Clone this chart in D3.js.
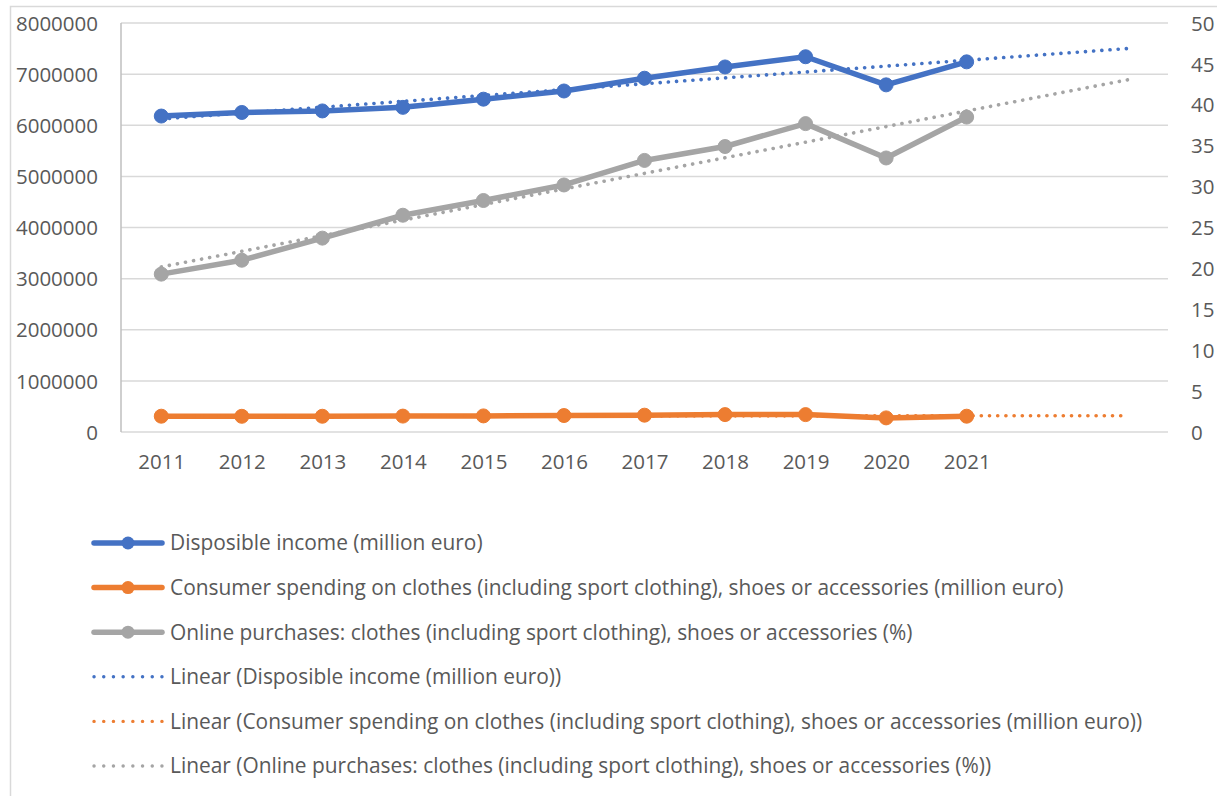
<!DOCTYPE html>
<html>
<head>
<meta charset="utf-8">
<script src="https://cdn.jsdelivr.net/npm/d3@7"></script>
<style>
  body { margin: 0; background: #fff; }
  svg { display: block; }
  text { font-family: "Open Sans", sans-serif; fill: #595959; }
</style>
</head>
<body>
<svg id="chart" width="1217" height="796"></svg>
<script>
// Categories and series values
const years = ["2011", "2012", "2013", "2014", "2015", "2016", "2017", "2018", "2019", "2020", "2021"];
const disposableIncome = [6180000, 6250000, 6280000, 6350000, 6510000, 6670000, 6920000, 7140000, 7340000, 6790000, 7240000];
const clothesSpending = [309000, 307000, 308000, 311000, 315000, 322000, 329000, 340000, 340000, 276000, 309000];
const onlinePurchases = [19.3, 21.0, 23.7, 26.5, 28.3, 30.2, 33.2, 34.9, 37.7, 33.5, 38.5];

// Axis tick labels
const leftTicks = [0, 1000000, 2000000, 3000000, 4000000, 5000000, 6000000, 7000000, 8000000];
const rightTicks = [0, 5, 10, 15, 20, 25, 30, 35, 40, 45, 50];

// Trendlines are projected this many periods forward
const forecastPeriods = 2;

const seriesNames = [
  "Disposible income (million euro)",
  "Consumer spending on clothes (including sport clothing), shoes or accessories (million euro)",
  "Online purchases: clothes (including sport clothing), shoes or accessories (%)"
];

const colors = ["#4472C4", "#ED7D31", "#A5A5A5"];

const series = [
  { name: seriesNames[0], values: disposableIncome, color: colors[0], axis: "left" },
  { name: seriesNames[1], values: clothesSpending, color: colors[1], axis: "left" },
  { name: seriesNames[2], values: onlinePurchases, color: colors[2], axis: "right" }
];

const svg = d3.select("#chart");

// Chart frame
svg.append("rect")
  .attr("x", 10.5).attr("y", 6.5)
  .attr("width", 1400).attr("height", 1000)
  .attr("fill", "none").attr("stroke", "#D9D9D9").attr("stroke-width", 1.5);

const plot = { left: 121, right: 1168, top: 23, bottom: 432 };
const nSlots = years.length + forecastPeriods;

const x = d3.scaleLinear().domain([-0.5, nSlots - 0.5]).range([plot.left, plot.right]);
const yLeft = d3.scaleLinear().domain([0, 8000000]).range([plot.bottom, plot.top]);
const yRight = d3.scaleLinear().domain([0, 50]).range([plot.bottom, plot.top]);

// Horizontal gridlines
svg.append("g").selectAll("line")
  .data(leftTicks)
  .join("line")
  .attr("x1", plot.left).attr("x2", plot.right)
  .attr("y1", d => yLeft(d)).attr("y2", d => yLeft(d))
  .attr("stroke", "#D9D9D9").attr("stroke-width", 1.5);

// Vertical value axis line
svg.append("line")
  .attr("x1", plot.left).attr("x2", plot.left)
  .attr("y1", plot.top).attr("y2", plot.bottom)
  .attr("stroke", "#BFBFBF").attr("stroke-width", 1.5);

// Left axis labels
const leftAxis = svg.append("g")
  .attr("transform", `translate(${plot.left - 23},0)`)
  .call(d3.axisLeft(yLeft).tickValues(leftTicks).tickFormat(d3.format("d")).tickSize(0).tickPadding(0));
leftAxis.select(".domain").remove();
leftAxis.selectAll("text").attr("font-size", 20.5).attr("dy", "0.35em")
  .style("font-family", "'Open Sans', sans-serif").attr("fill", "#595959");

// Right axis labels
const rightAxis = svg.append("g")
  .attr("transform", `translate(${plot.right + 23},0)`)
  .call(d3.axisRight(yRight).tickValues(rightTicks).tickFormat(d3.format("d")).tickSize(0).tickPadding(0));
rightAxis.select(".domain").remove();
rightAxis.selectAll("text").attr("font-size", 20.5).attr("dy", "0.35em")
  .style("font-family", "'Open Sans', sans-serif").attr("fill", "#595959");

// Category axis labels
const bottomAxis = svg.append("g")
  .attr("transform", `translate(0,${plot.bottom + 22})`)
  .call(d3.axisBottom(x).tickValues(d3.range(years.length)).tickFormat(i => years[i]).tickSize(0).tickPadding(0));
bottomAxis.select(".domain").remove();
bottomAxis.selectAll("text").attr("font-size", 20.5).attr("dy", "0.75em")
  .style("font-family", "'Open Sans', sans-serif").attr("fill", "#595959");

// Least-squares linear trend, evaluated over the data range plus the forecast
function trend(values) {
  const n = values.length;
  const xs = d3.range(n);
  const mx = d3.mean(xs), my = d3.mean(values);
  const sxy = d3.sum(xs, i => (i - mx) * (values[i] - my));
  const sxx = d3.sum(xs, i => (i - mx) * (i - mx));
  const b = sxy / sxx, a = my - b * mx;
  const last = n - 1 + forecastPeriods;
  return [[0, a], [last, a + b * last]];
}

const lineGen = yScale => d3.line().x((d, i) => x(i)).y(d => yScale(d));

const seriesLayer = svg.append("g");
const trendLayer = svg.append("g");
const markerLayer = svg.append("g");

series.forEach(s => {
  const yScale = s.axis === "left" ? yLeft : yRight;
  seriesLayer.append("path")
    .datum(s.values)
    .attr("d", lineGen(yScale))
    .attr("fill", "none")
    .attr("stroke", s.color)
    .attr("stroke-width", 5.5)
    .attr("stroke-linejoin", "round")
    .attr("stroke-linecap", "round");

  const t = trend(s.values);
  trendLayer.append("line")
    .attr("x1", x(t[0][0])).attr("y1", yScale(t[0][1]))
    .attr("x2", x(t[1][0])).attr("y2", yScale(t[1][1]))
    .attr("stroke", s.color)
    .attr("stroke-width", 3.6)
    .attr("stroke-linecap", "round")
    .attr("stroke-dasharray", "0.1 8.1");

  markerLayer.append("g").selectAll("circle")
    .data(s.values)
    .join("circle")
    .attr("cx", (d, i) => x(i))
    .attr("cy", d => yScale(d))
    .attr("r", 7)
    .attr("fill", s.color)
    .attr("stroke", s.color)
    .attr("stroke-width", 1);
});

// Legend
const legendItems = [
  ...series.map(s => ({ label: s.name, color: s.color, solid: true })),
  ...series.map(s => ({ label: `Linear (${s.name})`, color: s.color, solid: false }))
];

const legend = svg.append("g");
const rowY = d3.scaleLinear().domain([0, 5]).range([543, 766]);

legendItems.forEach((item, i) => {
  const g = legend.append("g").attr("transform", `translate(0,${rowY(i)})`);
  if (item.solid) {
    g.append("line")
      .attr("x1", 94).attr("x2", 162).attr("y1", 0).attr("y2", 0)
      .attr("stroke", item.color).attr("stroke-width", 5.5)
      .attr("stroke-linecap", "round");
    g.append("circle")
      .attr("cx", 128).attr("cy", 0).attr("r", 6.5)
      .attr("fill", item.color);
  } else {
    g.append("line")
      .attr("x1", 94).attr("x2", 162).attr("y1", 0).attr("y2", 0)
      .attr("stroke", item.color).attr("stroke-width", 3.4)
      .attr("stroke-linecap", "round")
      .attr("stroke-dasharray", "0.1 9.6");
  }
  g.append("text")
    .attr("x", 170).attr("y", 0).attr("dy", "0.35em")
    .attr("font-size", 20.9)
    .text(item.label);
});
</script>
</body>
</html>
